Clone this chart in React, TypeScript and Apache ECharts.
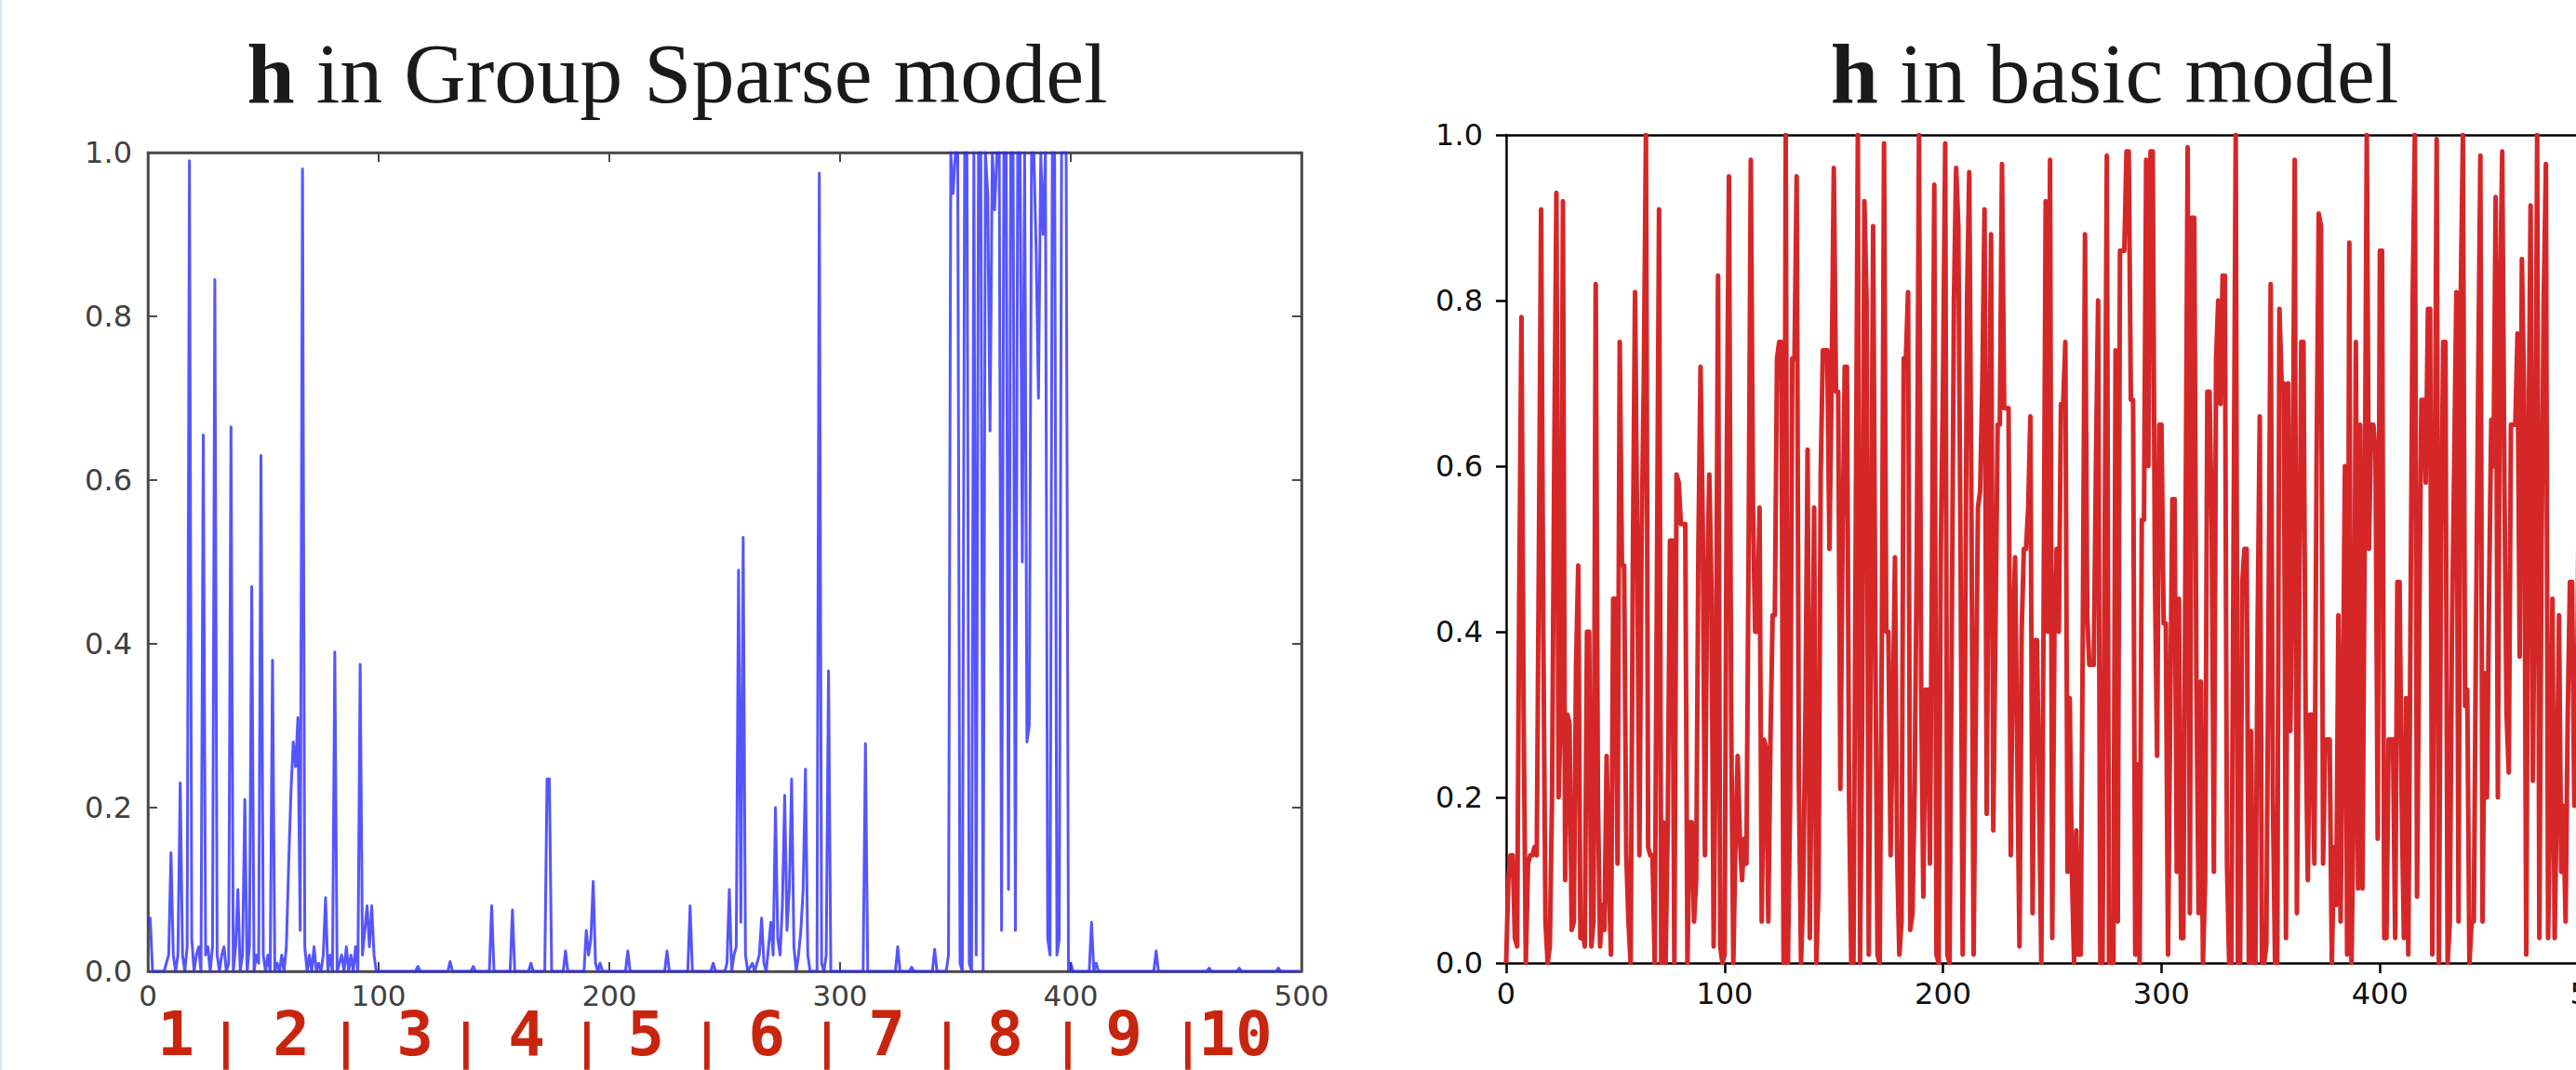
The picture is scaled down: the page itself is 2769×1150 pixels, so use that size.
import React, { useEffect, useRef } from "react";
import * as echarts from "echarts";

// ---------- DATA ----------
// Left panel: h in Group Sparse model (sparse [x, y] readings; y ~ 0 elsewhere)
const groupX: number[] = [
  0, 1, 2, 7, 8, 9, 10, 11, 12, 13, 14, 15, 16, 17, 18, 19, 20, 21, 22, 23, 24, 25, 26, 27, 28, 29,
  30, 31, 32, 33, 34, 35, 36, 37, 38, 39, 40, 41, 42, 43, 44, 45, 46, 47, 48, 49, 50, 51, 52, 53, 54,
  55, 56, 57, 58, 59, 60, 61, 62, 63, 64, 65, 66, 67, 68, 69, 70, 71, 72, 73, 74, 75, 76, 77, 78, 79,
  80, 81, 82, 83, 84, 85, 86, 87, 88, 89, 90, 91, 92, 93, 94, 95, 96, 97, 98, 99, 101,
  116, 117, 118, 130, 131, 132, 140, 141, 142, 148, 149, 150, 157, 158, 159, 165, 166, 167,
  172, 173, 174, 175, 180, 181, 182, 189, 190, 191, 192, 193, 194, 195, 196, 197,
  207, 208, 209, 224, 225, 226, 234, 235, 236, 244, 245, 246,
  250, 251, 252, 253, 254, 255, 256, 257, 258, 259, 260, 262, 263, 265, 266, 267, 268, 269, 270,
  271, 272, 273, 274, 275, 276, 277, 278, 279, 280, 281, 282, 283, 284, 285, 286, 287, 290, 291,
  292, 293, 294, 295, 296, 297, 310, 311, 312, 313, 324, 325, 326, 330, 331, 332, 340, 341, 342,
  346, 347, 348, 349, 350, 351, 352, 353, 354, 355, 356, 357, 358, 359, 360, 361, 362, 363, 364,
  365, 366, 367, 368, 369, 370, 371, 372, 373, 374, 375, 376, 377, 378, 379, 380, 381, 382, 383,
  384, 385, 386, 387, 388, 389, 390, 391, 392, 393, 394, 395, 396, 397, 398, 399, 400, 401,
  408, 409, 410, 411, 412, 436, 437, 438, 459, 460, 461, 472, 473, 474, 489, 490, 491, 499,
];
const groupY: number[] = [
  0.06, 0.065, 0, 0, 0.01, 0.02, 0.145, 0.02, 0, 0.02, 0.23, 0.02, 0, 0.03, 0.99, 0.04, 0, 0.02, 0.03, 0, 0.655, 0.02, 0.03, 0, 0.03, 0.845,
  0.02, 0, 0.02, 0.03, 0, 0.01, 0.665, 0, 0.03, 0.1, 0, 0.02, 0.21, 0, 0.03, 0.47, 0, 0.02, 0.01, 0.63, 0.02, 0, 0.02, 0, 0.38,
  0, 0.01, 0, 0.02, 0, 0.03, 0.13, 0.22, 0.28, 0.25, 0.31, 0.05, 0.98, 0.03, 0, 0.02, 0, 0.03, 0, 0.01, 0, 0.02, 0.09, 0, 0.02,
  0, 0.39, 0, 0.01, 0.02, 0, 0.03, 0, 0.02, 0, 0.03, 0, 0.375, 0.02, 0.05, 0.08, 0.03, 0.08, 0.02, 0, 0,
  0, 0.006, 0, 0, 0.012, 0, 0, 0.006, 0, 0, 0.08, 0, 0, 0.075, 0, 0, 0.01, 0,
  0, 0.235, 0.235, 0, 0, 0.025, 0, 0, 0.05, 0.02, 0.04, 0.11, 0.01, 0, 0.01, 0,
  0, 0.025, 0, 0, 0.025, 0, 0, 0.08, 0, 0, 0.01, 0,
  0, 0.01, 0.1, 0, 0.02, 0.03, 0.49, 0.06, 0.53, 0.02, 0, 0.01, 0, 0.02, 0.065, 0.01, 0, 0.03, 0.06,
  0.02, 0.2, 0.04, 0.02, 0.08, 0.215, 0.05, 0.1, 0.235, 0.03, 0, 0.02, 0.05, 0.1, 0.247, 0.02, 0, 0, 0.975,
  0.01, 0, 0.02, 0.367, 0, 0, 0, 0.278, 0, 0, 0, 0.03, 0, 0, 0.005, 0, 0, 0.027, 0,
  0, 0.02, 1.0, 0.95, 1.0, 1.0, 0.01, 0.0, 1.0, 1.0, 0.01, 0.0, 1.0, 0.02, 1.0, 1.0, 0.0, 1.0, 0.95,
  0.66, 1.0, 0.93, 1.0, 1.0, 0.05, 1.0, 1.0, 0.1, 1.0, 1.0, 0.05, 1.0, 1.0, 0.5, 1.0, 0.28, 0.3, 1.0,
  1.0, 0.88, 0.7, 1.0, 0.9, 1.0, 0.04, 0.02, 1.0, 1.0, 0.02, 0.04, 1.0, 1.0, 1.0, 0.0, 0.01, 0,
  0, 0.06, 0, 0.01, 0, 0, 0.025, 0, 0, 0.004, 0, 0, 0.004, 0, 0, 0.004, 0, 0,
];

// Right panel: h in basic model (one value per index 0..499)
const basicY: number[] = [
  0.00, 0.10, 0.13, 0.13, 0.03, 0.02, 0.45, 0.78, 0.30, 0.00,
  0.12, 0.13, 0.13, 0.14, 0.13, 0.50, 0.91, 0.40, 0.05, 0.00,
  0.02, 0.20, 0.60, 0.93, 0.20, 0.30, 0.92, 0.10, 0.30, 0.29,
  0.04, 0.05, 0.36, 0.48, 0.03, 0.04, 0.02, 0.40, 0.40, 0.02,
  0.05, 0.82, 0.20, 0.02, 0.07, 0.04, 0.25, 0.10, 0.01, 0.44,
  0.44, 0.12, 0.75, 0.48, 0.48, 0.13, 0.05, 0.00, 0.48, 0.81,
  0.51, 0.13, 0.51, 0.70, 1.00, 0.14, 0.13, 0.13, 0.00, 0.45,
  0.91, 0.00, 0.17, 0.00, 0.17, 0.51, 0.51, 0.00, 0.59, 0.58,
  0.53, 0.53, 0.53, 0.00, 0.17, 0.17, 0.05, 0.10, 0.50, 0.72,
  0.53, 0.13, 0.45, 0.59, 0.45, 0.02, 0.30, 0.83, 0.02, 0.00,
  0.01, 0.60, 0.95, 0.30, 0.00, 0.15, 0.25, 0.15, 0.10, 0.15,
  0.12, 0.50, 0.97, 0.55, 0.40, 0.40, 0.55, 0.05, 0.27, 0.26,
  0.05, 0.27, 0.42, 0.42, 0.73, 0.75, 0.75, 0.00, 1.00, 0.00,
  0.20, 0.73, 0.73, 0.95, 0.22, 0.00, 0.09, 0.30, 0.62, 0.03,
  0.29, 0.55, 0.00, 0.09, 0.59, 0.74, 0.74, 0.74, 0.50, 0.70,
  0.96, 0.69, 0.69, 0.21, 0.50, 0.72, 0.72, 0.20, 0.00, 0.00,
  0.50, 1.00, 0.00, 0.30, 0.92, 0.80, 0.01, 0.40, 0.89, 0.40,
  0.01, 0.00, 0.40, 0.99, 0.40, 0.40, 0.13, 0.30, 0.49, 0.13,
  0.01, 0.05, 0.73, 0.73, 0.81, 0.04, 0.06, 0.21, 0.50, 1.00,
  0.33, 0.08, 0.33, 0.33, 0.12, 0.50, 0.94, 0.01, 0.00, 0.50,
  0.70, 0.99, 0.01, 0.00, 0.40, 0.80, 0.96, 0.89, 0.50, 0.01,
  0.30, 0.80, 0.955, 0.55, 0.01, 0.30, 0.55, 0.57, 0.70, 0.91,
  0.18, 0.60, 0.88, 0.16, 0.40, 0.65, 0.65, 0.965, 0.67, 0.67,
  0.67, 0.13, 0.40, 0.49, 0.25, 0.02, 0.40, 0.50, 0.50, 0.55,
  0.66, 0.06, 0.39, 0.39, 0.20, 0.00, 0.40, 0.92, 0.40, 0.97,
  0.03, 0.40, 0.50, 0.40, 0.675, 0.675, 0.75, 0.11, 0.32, 0.11,
  0.00, 0.16, 0.01, 0.01, 0.40, 0.88, 0.42, 0.36, 0.36, 0.36,
  0.60, 0.80, 0.00, 0.00, 0.50, 0.975, 0.00, 0.00, 0.00, 0.74,
  0.05, 0.86, 0.86, 0.86, 0.98, 0.98, 0.68, 0.68, 0.01, 0.24,
  0.00, 0.535, 0.535, 0.97, 0.60, 0.98, 0.98, 0.47, 0.25, 0.65,
  0.65, 0.41, 0.41, 0.01, 0.30, 0.56, 0.56, 0.11, 0.44, 0.03,
  0.03, 0.50, 0.985, 0.06, 0.90, 0.90, 0.34, 0.06, 0.34, 0.00,
  0.10, 0.69, 0.69, 0.535, 0.11, 0.73, 0.80, 0.675, 0.83, 0.83,
  0.12, 0.00, 0.00, 0.50, 1.00, 0.00, 0.00, 0.46, 0.50, 0.50,
  0.00, 0.28, 0.00, 0.00, 0.40, 0.66, 0.00, 0.00, 0.02, 0.40,
  0.82, 0.20, 0.00, 0.00, 0.79, 0.70, 0.70, 0.03, 0.70, 0.28,
  0.50, 0.97, 0.06, 0.40, 0.75, 0.75, 0.30, 0.10, 0.30, 0.30,
  0.12, 0.60, 0.905, 0.89, 0.12, 0.27, 0.27, 0.27, 0.00, 0.14,
  0.07, 0.42, 0.05, 0.30, 0.60, 0.01, 0.87, 0.00, 0.20, 0.75,
  0.09, 0.65, 0.09, 0.50, 1.00, 0.50, 0.65, 0.65, 0.615, 0.15,
  0.86, 0.86, 0.03, 0.03, 0.27, 0.27, 0.27, 0.03, 0.46, 0.46,
  0.19, 0.03, 0.32, 0.01, 0.40, 0.80, 1.00, 0.08, 0.40, 0.68,
  0.68, 0.58, 0.79, 0.79, 0.01, 0.50, 0.995, 0.00, 0.50, 0.75,
  0.75, 0.00, 0.05, 0.40, 0.60, 0.81, 0.05, 0.80, 1.00, 0.31,
  0.33, 0.00, 0.05, 0.05, 0.40, 0.70, 0.975, 0.05, 0.35, 0.20,
  0.45, 0.656, 0.60, 0.925, 0.20, 0.80, 0.98, 0.58, 0.30, 0.23,
  0.65, 0.65, 0.65, 0.76, 0.37, 0.85, 0.69, 0.01, 0.60, 0.915,
  0.22, 0.50, 1.00, 0.03, 0.50, 0.80, 0.965, 0.03, 0.20, 0.44,
  0.03, 0.20, 0.42, 0.11, 0.19, 0.05, 0.30, 0.46, 0.46, 0.19,
  0.25, 0.55, 0.10, 0.62, 0.30, 0.05, 0.40, 0.70, 0.20, 0.35,
];

const titles: string[] = ["{b|h} in Group Sparse model", "{b|h} in basic model"];
const groupLabels: string[] = ["1", "2", "3", "4", "5", "6", "7", "8", "9", "10"];

// ---------- LAYOUT / STYLE ----------
const W = 2769;
const H = 1150;
const groupLabelX = [189, 313, 446, 566, 694, 824, 953, 1080, 1208, 1328];
const pipeX = [243, 372, 501, 631, 760, 889, 1018, 1148, 1277];

export default function App() {
  const ref = useRef<HTMLDivElement>(null);

  useEffect(() => {
    if (!ref.current) return;
    const chart = echarts.init(ref.current, undefined, { renderer: "svg", width: W, height: H });

    const leftPairs = groupX.map((x, i) => [x, groupY[i]]);
    const rightPairs = basicY.map((y, i) => [i, y]);

    const fmt1 = (v: number) => v.toFixed(1);
    const leftAxisColor = "#4a4a4a";
    const leftLabel = { color: "#404040", fontSize: 31, fontFamily: "DejaVu Sans" };
    const rightLabel = { color: "#111", fontSize: 32, fontFamily: "DejaVu Sans" };

    const titleStyle = (text: string) => ({
      text,
      fill: "#1a1a1a",
      fontSize: 92,
      fontFamily: "Liberation Serif",
      fontWeight: "normal",
      align: "center",
      textAlign: "center",
      verticalAlign: "middle",
      textVerticalAlign: "middle",
      rich: {
        b: { fontSize: 92, fontFamily: "Liberation Serif", fontWeight: "bold", fill: "#1a1a1a" },
      },
    });

    const redText = (text: string, x: number, y: number, size: number) => ({
      type: "text",
      x,
      y,
      silent: true,
      style: {
        text,
        fill: "#c9250e",
        fontSize: size,
        fontFamily: "DejaVu Sans Mono",
        fontWeight: "bold",
        align: "center",
        textAlign: "center",
        verticalAlign: "middle",
        textVerticalAlign: "middle",
      },
    });

    const graphics: any[] = [
      { type: "rect", silent: true, shape: { x: 0, y: 0, width: 2, height: H }, style: { fill: "#d6e3ea" } },
      { type: "text", x: 728, y: 79, silent: true, style: titleStyle(titles[0]) },
      { type: "text", x: 2273, y: 79, silent: true, style: titleStyle(titles[1]) },
    ];
    groupLabels.forEach((t, i) => graphics.push(redText(t, groupLabelX[i], 1111, 66)));
    pipeX.forEach((x) => graphics.push(redText("|", x, 1119, 52)));

    chart.setOption({
      animation: false,
      backgroundColor: "#ffffff",
      grid: [
        {
          left: 159, top: 164, width: 1240, height: 880, show: true,
          borderColor: leftAxisColor, borderWidth: 2.5, backgroundColor: "transparent",
          containLabel: false, outerBoundsMode: "none",
        },
        {
          left: 1619, top: 145, width: 1174, height: 890, show: false,
          containLabel: false, outerBoundsMode: "none",
        },
      ],
      xAxis: [
        {
          gridIndex: 0, type: "value", min: 0, max: 500, interval: 100,
          axisLine: { show: true, onZero: false, lineStyle: { color: leftAxisColor, width: 2.5 } },
          axisTick: { show: true, inside: true, length: 10, lineStyle: { color: leftAxisColor, width: 2 } },
          axisLabel: { ...leftLabel, margin: 10 },
          splitLine: { show: false },
        },
        {
          gridIndex: 0, type: "value", position: "top", min: 0, max: 500, interval: 100,
          axisLine: { show: true, onZero: false, lineStyle: { color: leftAxisColor, width: 2.5 } },
          axisTick: { show: true, inside: true, length: 10, lineStyle: { color: leftAxisColor, width: 2 } },
          axisLabel: { show: false },
          splitLine: { show: false },
        },
        {
          gridIndex: 1, type: "value", min: 0, max: 500, interval: 100,
          axisLine: { show: true, onZero: false, lineStyle: { color: "#000", width: 2.5 } },
          axisTick: { show: true, inside: false, length: 11, lineStyle: { color: "#000", width: 2.5 } },
          axisLabel: { ...rightLabel, margin: 17, showMaxLabel: true },
          splitLine: { show: false },
        },
        {
          gridIndex: 1, type: "value", position: "top", min: 0, max: 500, interval: 100,
          axisLine: { show: true, onZero: false, lineStyle: { color: "#000", width: 2.5 } },
          axisTick: { show: false },
          axisLabel: { show: false },
          splitLine: { show: false },
        },
      ],
      yAxis: [
        {
          gridIndex: 0, type: "value", min: 0, max: 1, interval: 0.2,
          axisLine: { show: true, onZero: false, lineStyle: { color: leftAxisColor, width: 2.5 } },
          axisTick: { show: true, inside: true, length: 10, lineStyle: { color: leftAxisColor, width: 2 } },
          axisLabel: { ...leftLabel, fontSize: 32, margin: 17, formatter: fmt1 },
          splitLine: { show: false },
        },
        {
          gridIndex: 0, type: "value", position: "right", min: 0, max: 1, interval: 0.2,
          axisLine: { show: true, onZero: false, lineStyle: { color: leftAxisColor, width: 2.5 } },
          axisTick: { show: true, inside: true, length: 10, lineStyle: { color: leftAxisColor, width: 2 } },
          axisLabel: { show: false },
          splitLine: { show: false },
        },
        {
          gridIndex: 1, type: "value", min: 0, max: 1, interval: 0.2,
          axisLine: { show: true, onZero: false, lineStyle: { color: "#000", width: 2.5 } },
          axisTick: { show: true, inside: false, length: 11, lineStyle: { color: "#000", width: 2.5 } },
          axisLabel: { ...rightLabel, margin: 25, formatter: fmt1 },
          splitLine: { show: false },
        },
      ],
      series: [
        {
          type: "line", xAxisIndex: 0, yAxisIndex: 0, data: leftPairs,
          symbol: "none", showSymbol: false, silent: true, clip: true,
          lineStyle: { color: "#2b2bff", width: 3, opacity: 0.8, join: "round" },
        },
        {
          type: "line", xAxisIndex: 2, yAxisIndex: 2, data: rightPairs,
          symbol: "none", showSymbol: false, silent: true, clip: true,
          lineStyle: { color: "#d62728", width: 5, join: "round" },
        },
      ],
      graphic: graphics,
    });

    return () => chart.dispose();
  }, []);

  return (
    <div
      ref={ref}
      style={{ position: "fixed", left: 0, top: 0, width: W, height: H, background: "#fff" }}
    />
  );
}
